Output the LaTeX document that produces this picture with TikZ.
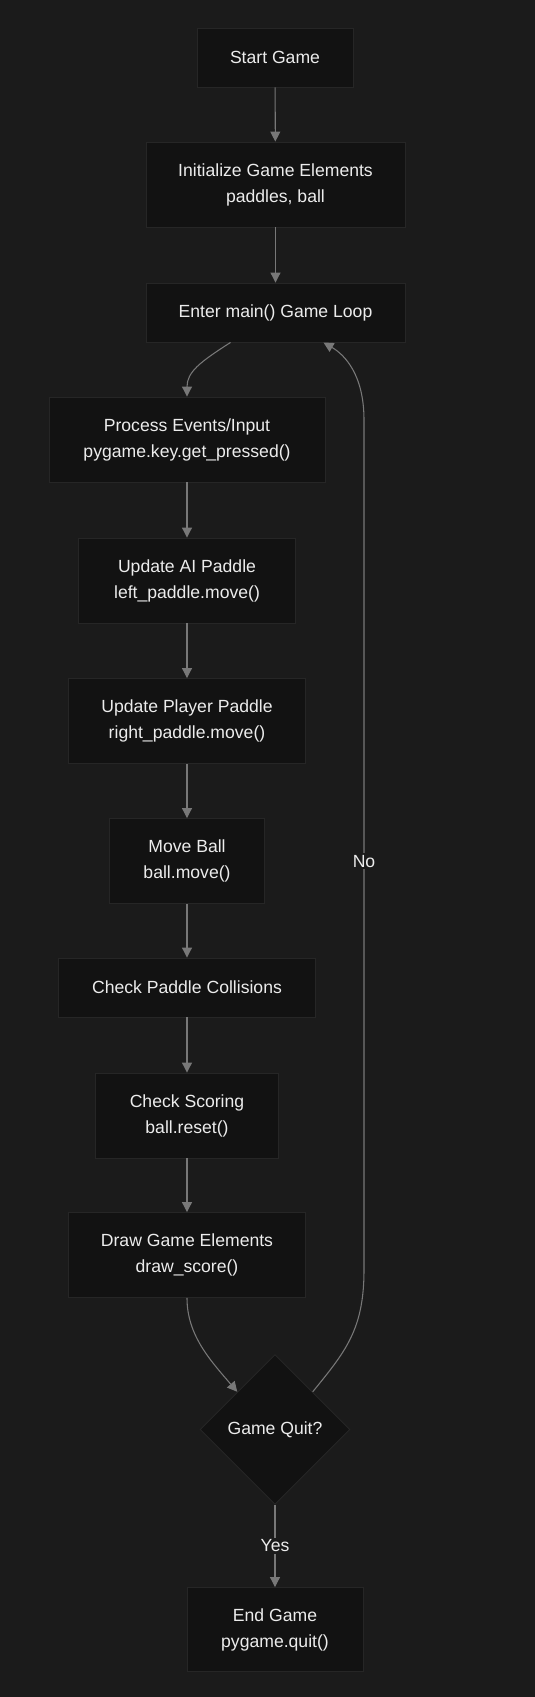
\documentclass[tikz,border=0pt]{standalone}
\usepackage{fontspec}
\setmainfont{Liberation Sans}
\usetikzlibrary{shapes.geometric}
\usetikzlibrary{arrows.meta}
\usetikzlibrary{calc}

\definecolor{bgcol}{RGB}{27,27,27}
\definecolor{boxfill}{RGB}{18,18,18}
\definecolor{boxline}{RGB}{38,38,38}
\definecolor{linecol}{RGB}{120,120,120}
\definecolor{txtcol}{RGB}{236,236,236}

\begin{document}
\begin{tikzpicture}[x=0.75pt,y=0.75pt,yscale=-1,xscale=1,
  stepbox/.style={draw=boxline,fill=boxfill,text=txtcol,align=center,font=\fontsize{13.2}{19.5}\selectfont,inner sep=0pt,line width=0.7pt},
  decision/.style={diamond,aspect=1,draw=boxline,fill=boxfill,text=txtcol,font=\fontsize{13.2}{19.5}\selectfont,inner sep=0pt,minimum width=150*0.75pt,minimum height=150*0.75pt,line width=0.7pt},
  flow/.style={draw=linecol,line width=0.8pt,-{Triangle[length=7.5pt,width=7.5pt]}},
  edgelabel/.style={fill=bgcol,text=txtcol,font=\fontsize{13.2}{15}\selectfont,inner sep=1.5pt}]
%set diagram size: 535 x 1697
\fill[bgcol] (0,0) rectangle (535,1697);
\useasboundingbox (0,0) rectangle (535,1697);

% Text Node
\node[stepbox,minimum width=156*0.75pt,minimum height=59*0.75pt] (start) at (275,57.5) {Start Game};
% Text Node
\node[stepbox,minimum width=259*0.75pt,minimum height=85*0.75pt] (init) at (275.5,184.5) {Initialize Game Elements\\paddles, ball};
% Text Node
\node[stepbox,minimum width=259*0.75pt,minimum height=59*0.75pt] (loop) at (275.5,312.5) {Enter main() Game Loop};
% Text Node
\node[stepbox,minimum width=276*0.75pt,minimum height=85*0.75pt] (events) at (187,439.5) {Process Events/Input\\pygame.key.get\_pressed()};
% Text Node
\node[stepbox,minimum width=217*0.75pt,minimum height=85*0.75pt] (aipad) at (187,580.5) {Update AI Paddle\\left\_paddle.move()};
% Text Node
\node[stepbox,minimum width=237*0.75pt,minimum height=85*0.75pt] (plpad) at (187,721) {Update Player Paddle\\right\_paddle.move()};
% Text Node
\node[stepbox,minimum width=155*0.75pt,minimum height=85*0.75pt] (ball) at (187,861) {Move Ball\\ball.move()};
% Text Node
\node[stepbox,minimum width=257*0.75pt,minimum height=59*0.75pt] (collide) at (187,987.5) {Check Paddle Collisions};
% Text Node
\node[stepbox,minimum width=183*0.75pt,minimum height=85*0.75pt] (score) at (187,1115.5) {Check Scoring\\ball.reset()};
% Text Node
\node[stepbox,minimum width=237*0.75pt,minimum height=85*0.75pt] (render) at (187,1255) {Draw Game Elements\\draw\_score()};
% Decision
\node[decision] (quit) at (275,1429.5) {Game Quit?};
% Text Node
\node[stepbox,minimum width=176*0.75pt,minimum height=84*0.75pt] (finish) at (275,1629.5) {End Game\\pygame.quit()};

%Straight Lines
\draw[flow] (start) -- (init);
\draw[flow] (init) -- (loop);
\draw[flow] ($(loop.south)+(-45,0)$) .. controls (200,362) and (187,372) .. (events.north);
\draw[flow] (events) -- (aipad);
\draw[flow] (aipad) -- (plpad);
\draw[flow] (plpad) -- (ball);
\draw[flow] (ball) -- (collide);
\draw[flow] (collide) -- (score);
\draw[flow] (score) -- (render);
\draw[flow] (render.south) .. controls (187,1335) and (210,1360) .. (quit.north west);
\draw[flow] (quit) -- node[edgelabel] {Yes} (finish);
%loop back
\draw[flow] (quit.north east) .. controls (345,1352) and (364,1330) .. (364,1270) -- node[edgelabel,pos=0.481] {No} (364,420) .. controls (364,375) and (345,355) .. ($(loop.south)+(48,0)$);

\end{tikzpicture}
\end{document}
